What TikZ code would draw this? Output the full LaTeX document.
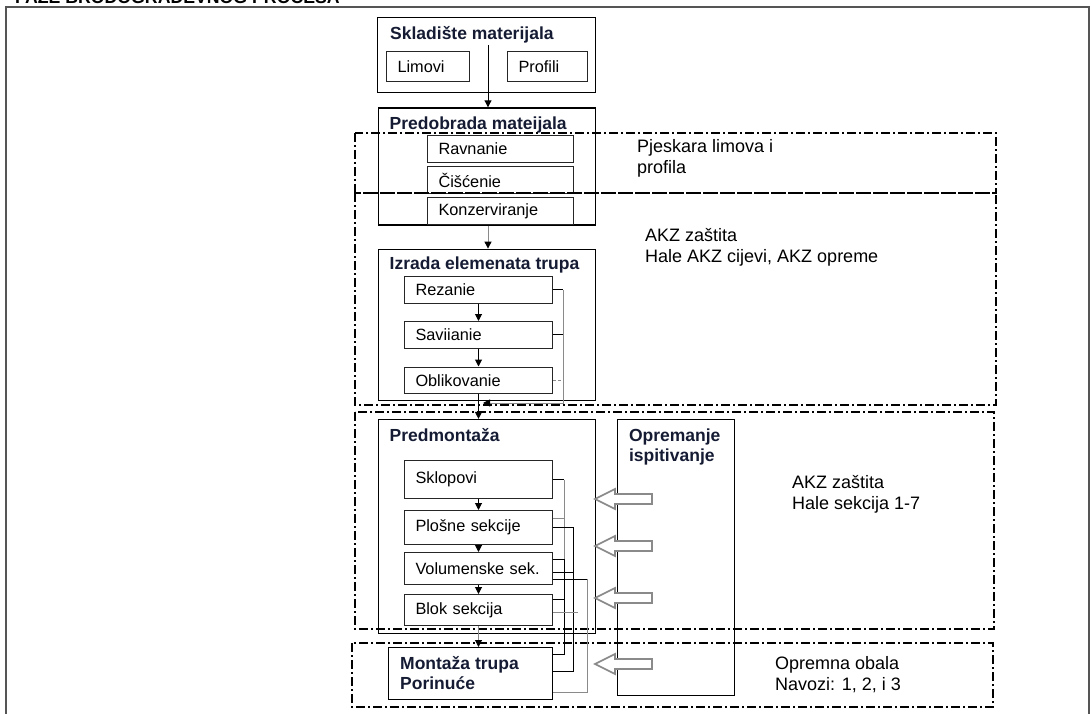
\documentclass[tikz,border=0pt]{standalone}
\usepackage{fontspec}
\setmainfont{Liberation Sans}
\usetikzlibrary{arrows.meta, positioning, calc}
\definecolor{ink}{HTML}{141B33}
\definecolor{framegray}{HTML}{555555}
\definecolor{wire}{HTML}{8A8A8A}

\begin{document}
\begin{tikzpicture}[x=1pt, y=-1pt,
  bigbox/.style={rectangle, draw, line width=1.3pt, anchor=north west, inner sep=0pt},
  item/.style={rectangle, draw=black!85, line width=1pt, anchor=north west,
    inner xsep=11pt, inner ysep=0pt, text width=126pt, align=left,
    font=\fontsize{16.3}{19}\selectfont},
  boxtitle/.style={anchor=base west, inner sep=0pt, text=ink,
    font=\fontsize{17.5}{20}\selectfont\bfseries},
  note/.style={anchor=north west, inner sep=0pt, align=left,
    font=\fontsize{18}{21}\selectfont},
  zone/.style={draw, line width=1.5pt, dash pattern=on 9pt off 3pt on 2pt off 3pt},
  arr/.style={-{Triangle[length=7pt, width=7pt, color=black]}, line width=1pt},
  link/.style={line width=1pt},
  hollow/.style={draw=wire, line width=1.6pt, fill=white, line join=miter},
  node distance=10pt,
]
  \clip (0,0) rectangle (1092,714);
  % heading and outer frame
  \node[anchor=base west, inner sep=0pt, font=\fontsize{17.7}{20}\selectfont\bfseries]
    (heading) at (15,3.5) {FAZE BRODOGRAĐEVNOG PROCESA};
  \draw[framegray, line width=1.8pt] (6,720) |- (1089,7) -- (1089,720);

  % main blocks
  \node[bigbox, minimum width=218pt, minimum height=75pt] (sklad) at (377,17) {};
  \node[bigbox, minimum width=217pt, minimum height=117pt, below=14pt of sklad] (predob) {};
  \node[bigbox, minimum width=217pt, minimum height=151pt, below=23pt of predob] (izrada) {};
  \node[bigbox, minimum width=217pt, minimum height=214pt, below=18pt of izrada] (predm) {};
  \node[bigbox, minimum width=117pt, minimum height=276pt,
    right=21pt of predm.north east, anchor=north west] (opr) {};
  \node[bigbox, minimum width=164pt, minimum height=52pt] (mont) at (388,647) {};

  \node[boxtitle] at ($(sklad.north west)+(13,23)$) {Skladište materijala};
  \node[boxtitle] at ($(predob.north west)+(12,22)$) {Predobrada mateijala};
  \node[boxtitle] at ($(izrada.north west)+(12,21)$) {Izrada elemenata trupa};
  \node[boxtitle] at ($(predm.north west)+(12,23)$) {Predmontaža};
  \node[boxtitle, anchor=north west, align=left] at ($(opr.north west)+(12,10)$)
    {Opremanje\\ispitivanje};
  \node[boxtitle, anchor=north west, align=left] at ($(mont.north west)+(12,9)$)
    {Montaža trupa\\Porinuće};

  % inner steps
  \node[item, text width=61pt, minimum height=30pt] (lim) at (386,51) {Limovi};
  \node[item, text width=58pt, minimum height=30pt] (prof) at (507,51) {Profili};

  \node[item, text width=124pt, minimum height=27pt] (rav) at (427,135) {Ravnanie};
  \node[item, text width=124pt, minimum height=27pt, below=3pt of rav] (cis) {Čišćenie};
  \node[item, text width=124pt, minimum height=27pt, below=3pt of cis] (kon) {Konzerviranje};

  \node[item, minimum height=26.5pt] (rez) at (404,276) {Rezanie};
  \node[item, minimum height=26.5pt, below=17.5pt of rez] (sav) {Saviianie};
  \node[item, minimum height=26.5pt, below=18pt of sav] (obl) {Oblikovanie};

  \node[item, minimum height=38pt] (skl) at (404,460) {Sklopovi};
  \node[item, minimum height=34pt, below=11pt of skl] (plo) {Plošne sekcije};
  \node[item, minimum height=32pt, below=7pt of plo] (vol) {Volumenske sek.};
  \node[item, minimum height=31pt, below=9pt of vol] (blok) {Blok sekcija};

  % zones
  \draw[zone] (355,133) rectangle (996,193);
  \draw[zone] (355,193) rectangle (996,405);
  \draw[zone] (355,412) rectangle (994,629);
  \draw[zone] (352,643) rectangle (993,707);
  \node[note] (pjesk) at (637,139) {Pjeskara limova i\\profila};
  \node[note] (akzcijevi) at (645,228) {AKZ zaštita\\Hale AKZ cijevi, AKZ opreme};
  \node[note] (akzsekcije) at (792,475) {AKZ zaštita\\Hale sekcija 1-7};
  \node[note] (obala) at (775,656) {Opremna obala\\Navozi: 1, 2, i 3};

  % flow
  \coordinate (skout) at (488,45);
  \draw[arr] (skout) -- (skout |- predob.north);
  \draw[arr, wire] (predob.south -| skout) -- (izrada.north -| skout);
  \draw[arr] (rez) -- (sav);
  \draw[arr] (sav) -- (obl);
  \draw[arr] (obl.south) -- (obl.south |- predm.north);
  \coordinate (bk) at (563,403);
  \coordinate (izret) at (483,403);
  \draw[link] (rez.east) -- (rez.east -| bk);
  \draw[arr, wire] (rez.east -| bk) -- (bk) -- (izret);
  \draw[link] (sav.east) -- (sav.east -| bk);
  \draw[link, wire, densely dashed] (obl.east) -- (obl.east -| bk);

  \draw[arr] (skl) -- (plo);
  \draw[arr] (plo) -- (vol);
  \draw[arr] (vol) -- (blok);
  \draw[arr, wire] (blok.south) -- (blok.south |- mont.north);

  % links to hull assembly
  \coordinate (ca) at (564,0);
  \coordinate (cb) at (573,0);
  \coordinate (cc) at (587,0);
  \coordinate (ma) at ($(mont.north east)+(0,7)$);
  \coordinate (mb) at ($(mont.north east)+(0,24)$);
  \coordinate (mc) at ($(mont.north east)+(0,45)$);
  \coordinate (v7) at ($(vol.north east)+(0,7)$);
  \coordinate (v20) at ($(vol.north east)+(0,20)$);
  \coordinate (v27) at ($(vol.north east)+(0,27)$);
  \coordinate (p8) at ($(plo.north east)+(0,8)$);
  \coordinate (b5) at ($(blok.north east)+(0,5)$);
  \coordinate (b18) at ($(blok.north east)+(0,18)$);
  \draw[link] (skl.east) -- (skl.east -| ca);
  \draw[link, wire] (skl.east -| ca) -- (v7 -| ca);
  \draw[link] (v7) -| (ca |- ma) -- (ma);
  \draw[link] (b5) -- (b5 -| ca);
  \draw[link, wire] (p8) -- (p8 -| ca);
  \draw[link] (plo.east) -| (cb |- mb) -- (mb);
  \draw[link] (v20) -- (v20 -| cb);
  \draw[link] (v27) -- (v27 -| cc);
  \draw[link, wire] (v27 -| cc) |- (mc);
  \draw[link, wire] (b18) -- ++(25,0);

  % equipment inputs
  \foreach \y in {499,546,598,664}{
    \draw[hollow] (652,{\y-5}) -- (615,{\y-5}) -- (615,{\y-10}) -- (595,\y)
      -- (615,{\y+10}) -- (615,{\y+5}) -- (652,{\y+5}) -- cycle;
  }
\end{tikzpicture}
\end{document}
